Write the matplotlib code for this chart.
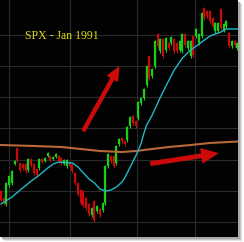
import matplotlib
matplotlib.use("Agg")
import matplotlib.pyplot as plt
from matplotlib.patches import Rectangle, FancyArrowPatch

# ---- data (SPX daily bars, approx.) ----
highs = [309.0, 306.2, 312.2, 315.0, 317.0, 321.0, 326.2, 320.2, 319.8, 319.8,
         321.8, 321.8, 319.8, 317.8, 321.8, 321.8, 322.2, 324.2, 323.0, 322.6,
         323.8, 323.0, 322.2, 321.4, 321.4, 320.2, 319.4, 316.2, 312.2, 309.4,
         309.0, 306.2, 303.8, 302.2, 305.0, 303.0, 301.8, 304.2, 319.0, 323.8,
         323.0, 323.0, 327.0, 329.8, 330.2, 329.0, 334.6, 338.6, 339.0, 337.0,
         344.6, 346.2, 349.8, 359.0, 363.0, 357.8, 369.0, 371.8, 369.8, 369.8,
         370.2, 368.2, 370.6, 369.8, 368.2, 369.0, 371.8, 371.8, 369.0, 369.0,
         371.0, 373.8, 371.8, 380.2, 382.2, 381.0, 381.0, 378.2, 376.2, 376.2,
         381.8, 375.8, 377.0, 372.2, 369.0, 369.0, 368.2]
lows = [304.2, 303.0, 302.6, 310.2, 311.0, 319.0, 320.2, 316.2, 317.0, 315.8,
        316.2, 318.2, 315.0, 314.2, 317.0, 319.8, 320.2, 322.2, 320.2, 321.0,
        321.8, 319.8, 319.0, 319.0, 317.8, 318.2, 315.8, 311.0, 306.6, 303.0,
        302.2, 301.0, 298.6, 298.2, 296.2, 299.8, 298.2, 300.2, 303.0, 317.8,
        319.8, 317.8, 319.0, 326.6, 327.8, 326.6, 328.2, 333.8, 335.0, 333.8,
        337.0, 343.0, 345.0, 350.2, 353.0, 353.8, 357.8, 365.8, 363.8, 361.8,
        364.2, 365.0, 367.0, 363.8, 363.8, 364.2, 363.8, 366.2, 365.0, 361.8,
        362.2, 369.8, 367.0, 369.8, 377.0, 377.8, 375.8, 373.8, 371.8, 371.8,
        373.0, 372.2, 373.8, 365.8, 365.8, 366.2, 365.0]
opens = [308.6, 305.8, 303.4, 311.0, 311.8, 319.4, 325.8, 319.8, 319.4, 319.4,
         317.0, 321.4, 319.4, 317.4, 317.8, 321.4, 320.6, 322.6, 322.6, 321.4,
         322.2, 322.6, 321.8, 319.4, 318.6, 319.8, 319.0, 315.8, 311.8, 309.0,
         308.6, 305.8, 303.4, 299.0, 304.6, 300.6, 301.4, 301.0, 303.8, 318.6,
         322.6, 322.6, 319.8, 327.4, 329.8, 328.6, 329.0, 334.6, 338.6, 336.6,
         337.8, 343.8, 345.8, 351.0, 362.6, 354.6, 358.6, 371.4, 364.6, 369.4,
         365.0, 367.8, 367.8, 369.4, 367.8, 365.0, 364.6, 371.4, 365.8, 362.6,
         370.6, 370.6, 367.8, 370.6, 381.8, 380.6, 380.6, 377.8, 372.6, 372.6,
         381.4, 373.0, 374.6, 371.8, 366.6, 368.6, 365.8]
closes = [305.0, 303.8, 311.8, 314.6, 316.6, 320.6, 321.0, 317.0, 317.8, 316.6,
          321.4, 319.0, 315.8, 315.0, 321.4, 320.2, 321.8, 323.8, 321.0, 322.2,
          323.4, 320.6, 319.8, 321.0, 321.0, 318.6, 316.6, 311.8, 307.4, 303.8,
          303.0, 301.8, 299.4, 301.8, 297.0, 302.6, 299.0, 303.8, 318.6, 323.4,
          320.6, 318.6, 326.6, 329.4, 328.6, 327.4, 334.2, 338.2, 335.8, 334.6,
          344.2, 345.8, 349.4, 358.6, 353.8, 357.4, 368.6, 366.6, 369.4, 362.6,
          369.8, 365.8, 370.2, 364.6, 364.6, 368.6, 371.4, 367.0, 368.6, 368.6,
          363.0, 373.4, 371.4, 379.8, 377.8, 378.6, 376.6, 374.6, 375.8, 375.8,
          373.8, 375.4, 376.6, 366.6, 368.6, 367.0, 367.8]

# short moving average (cyan), read at selected bars
ma_short_idx = [0, 4, 7, 11, 14, 17, 19, 21, 26, 28, 30, 32, 34, 36, 38, 40, 42, 44,
                45, 47, 49, 50, 51, 52, 53, 55, 58, 60, 63, 66, 69, 73, 76, 78, 80, 82, 86]
ma_short_val = [303.4, 306.2, 309.0, 312.6, 315.0, 317.8, 319.4, 320.2, 319.8, 318.2,
                315.8, 313.4, 311.8, 309.4, 308.6, 309.0, 310.2, 312.2, 313.8, 318.2,
                322.6, 325.0, 327.8, 331.8, 335.0, 339.0, 346.2, 350.6, 357.0, 361.8,
                365.0, 368.2, 370.6, 371.4, 372.2, 373.4, 373.4]
# long moving average (orange)
ma_long_idx = [0, 12, 22, 29, 36, 44, 49, 55, 61, 69, 76, 86]
ma_long_val = [327.0, 326.6, 326.2, 325.4, 324.6, 324.2, 324.6, 325.4, 326.2, 327.0,
               327.8, 328.4]

title_text = "SPX - Jan 1991"
month_starts = [2.9, 25.1, 49.5, 70.5]
price_grid = [371.0, 358.6, 346.2, 333.8, 321.0, 308.6, 296.2]

# ---- figure ----
W, H = 244, 242
fig = plt.figure(figsize=(W / 100, H / 100), dpi=100, facecolor="white")

# drop shadow
for k, c in enumerate(["#e2e2e2", "#c4c4c4", "#a8a8a8"]):
    off = 4 - k
    fig.patches.append(Rectangle((off / W, (5 - off) / H), 238 / W, 237 / H,
                                 transform=fig.transFigure, facecolor=c,
                                 edgecolor="none", zorder=-10))

ax = fig.add_axes([0, 5 / H, 238 / W, 237 / H])
ax.set_zorder(1)
ax.set_facecolor("#020202")
for s in ax.spines.values():
    s.set_visible(False)

ax.set_xlim(-0.36, 86.2)
ax.set_ylim(290.2, 385.0)
ax.set_xticks(month_starts)
ax.set_yticks(price_grid)
ax.tick_params(length=0, labelbottom=False, labelleft=False)
ax.grid(True, color="#2a2a2a", linewidth=0.8)
ax.set_axisbelow(True)

green = "#18d018"
red = "#c80a0a"
for i in range(len(highs)):
    c = green if closes[i] >= opens[i] else red
    ax.vlines(i, lows[i], highs[i], color=c, linewidth=0.8, zorder=3)
    ax.vlines(i, min(opens[i], closes[i]), max(opens[i], closes[i]), color=c,
              linewidth=1.6, zorder=3)

ax.plot(ma_long_idx, ma_long_val, color="#b8683a", linewidth=1.5, zorder=4)
ax.plot(ma_short_idx, ma_short_val, color="#22b8c4", linewidth=1.0, zorder=5)

a1 = FancyArrowPatch((29.5, 331.8), (43.3, 359.0),
                     arrowstyle="simple,head_length=9,head_width=8,tail_width=2.2",
                     mutation_scale=1, color="#cc0a0a", zorder=6)
ax.add_patch(a1)
a2 = FancyArrowPatch((53.5, 319.4), (79.6, 323.8),
                     arrowstyle="simple,head_length=11,head_width=10,tail_width=2.5",
                     mutation_scale=1, color="#cc0a0a", zorder=6)
ax.add_patch(a2)

ax.text(8.7, 370.6, title_text, color="#dcdc14", fontsize=8.5,
        family="Liberation Serif", va="center", ha="left", zorder=7)

fig.savefig("out.png", dpi=100, facecolor="white")
